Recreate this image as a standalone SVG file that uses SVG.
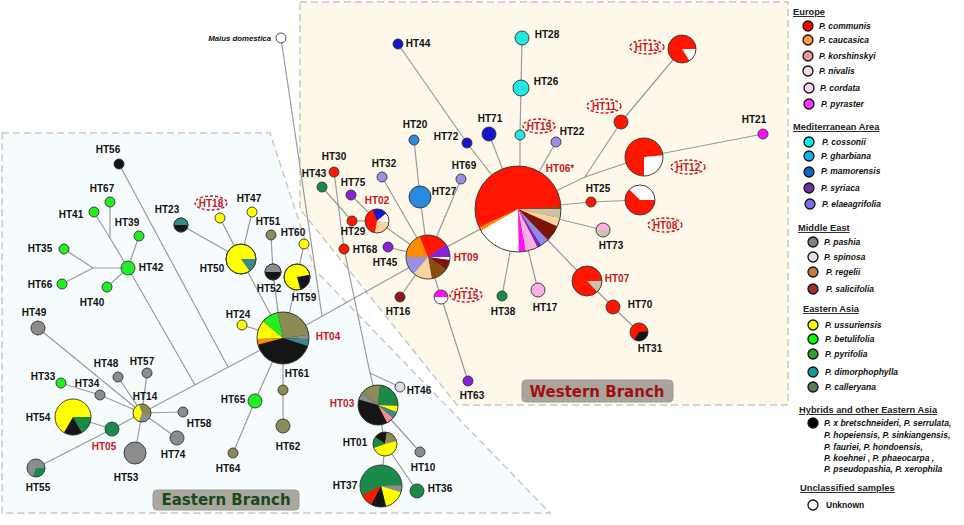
<svg xmlns="http://www.w3.org/2000/svg" width="964" height="525" viewBox="0 0 964 525">
<style>
.e{stroke:#9a9a9a;stroke-width:1.2;fill:none}
.n{stroke:#333;stroke-width:0.9}
.o{fill:none;stroke:#333;stroke-width:0.9}
.lb{font-family:"Liberation Sans",Arial,sans-serif;font-weight:bold;font-size:10px;text-anchor:middle;fill:#111}
.rd{fill:#c8161d}
.de{fill:none;stroke:#c8161d;stroke-width:1.4;stroke-dasharray:3 2}
.reg{stroke:#c8c8c8;stroke-width:1.5;stroke-dasharray:7 4}
.lh{font-family:"Liberation Sans",Arial,sans-serif;font-weight:bold;font-size:9.3px;fill:#222;text-decoration:underline}
.ls{font-family:"Liberation Sans",Arial,sans-serif;font-weight:bold;font-style:italic;font-size:8.5px;fill:#111}
.lc{stroke:#111;stroke-width:1.3}
.br{font-family:"DejaVu Sans",Verdana,sans-serif;font-weight:bold;font-size:15px;text-anchor:middle}
.red{fill:#ff1500}.yel{fill:#ffff00}.grn{fill:#22ee22}.dg{fill:#1a8a4a}.gry{fill:#8c8c8c}.olv{fill:#8b8b55}.blk{fill:#151515}.teal{fill:#3a8a8a}.blue{fill:#1515d0}.mblue{fill:#2a8ae0}.lav{fill:#9a90e0}.pur{fill:#8a20d8}.cyan{fill:#20e8e0}.mag{fill:#ff10ff}.wht{fill:#ffffff}.pch{fill:#f8d4a0}.mar{fill:#7a1508}.brn{fill:#8b4a10}.org{fill:#ff8c00}.bei{fill:#c8c2b0}.pnk{fill:#f8b0e0}.sal{fill:#f09090}
</style>
<rect width="964" height="525" fill="#ffffff"/>
<g id="regions">
<polygon class="reg" points="2,133 270,133 315,270 550,513 2,513" fill="#f6fcfd"/>
<polygon class="reg" points="300,2 788,2 788,405 457,405 300,209" fill="#fdf8ea"/>
<rect x="153" y="490" width="146" height="20" rx="4" fill="#aaa79f" stroke="#999" stroke-width="1"/>
<text class="br" x="226" y="505" fill="#174a1a">Eastern Branch</text>
<rect x="522" y="380" width="151" height="22" rx="4" fill="#aaa59c" stroke="#999" stroke-width="1"/>
<text class="br" x="597" y="397" fill="#a01010">Western Branch</text>
</g>
<g id="connectors" class="e">
<line x1="283" y1="338" x2="142" y2="413"/>
<line x1="119" y1="164" x2="228" y2="367"/>
<line x1="128" y1="268" x2="195" y2="385"/>
<line x1="110" y1="202" x2="110" y2="238"/>
<line x1="94" y1="212" x2="110" y2="238"/>
<line x1="110" y1="238" x2="128" y2="268"/>
<line x1="128" y1="268" x2="139" y2="236"/>
<line x1="128" y1="268" x2="107" y2="287"/>
<line x1="128" y1="268" x2="93" y2="268"/>
<line x1="93" y1="268" x2="64" y2="249"/>
<line x1="93" y1="268" x2="62" y2="284"/>
<line x1="241" y1="259" x2="181" y2="225"/>
<line x1="241" y1="259" x2="220" y2="218"/>
<line x1="241" y1="259" x2="252" y2="212"/>
<line x1="241" y1="259" x2="283" y2="338"/>
<line x1="271" y1="235" x2="273" y2="272"/>
<line x1="273" y1="272" x2="279" y2="320"/>
<line x1="304" y1="244" x2="297" y2="277"/>
<line x1="297" y1="277" x2="288" y2="320"/>
<line x1="242" y1="325" x2="283" y2="338"/>
<line x1="283" y1="338" x2="283" y2="426"/>
<line x1="283" y1="338" x2="255" y2="401"/>
<line x1="255" y1="401" x2="233" y2="453"/>
<line x1="142" y1="413" x2="118" y2="377"/>
<line x1="142" y1="413" x2="147" y2="373"/>
<line x1="142" y1="413" x2="100" y2="395"/>
<line x1="100" y1="395" x2="61" y2="383"/>
<line x1="142" y1="413" x2="183" y2="412"/>
<line x1="142" y1="413" x2="177" y2="438"/>
<line x1="142" y1="413" x2="135" y2="453"/>
<line x1="142" y1="413" x2="38" y2="328"/>
<line x1="142" y1="413" x2="112" y2="429"/>
<line x1="112" y1="429" x2="73" y2="417"/>
<line x1="112" y1="429" x2="36" y2="468"/>
<line x1="283" y1="338" x2="428" y2="257"/>
<line x1="281" y1="38" x2="322" y2="316"/>
<line x1="344" y1="249" x2="370" y2="373"/>
<line x1="370" y1="373" x2="400" y2="387"/>
<line x1="370" y1="373" x2="378" y2="405"/>
<line x1="378" y1="405" x2="385" y2="444"/>
<line x1="378" y1="405" x2="420" y2="452"/>
<line x1="385" y1="444" x2="381" y2="486"/>
<line x1="385" y1="444" x2="417" y2="491"/>
<line x1="334" y1="172" x2="344" y2="249"/>
<line x1="322" y1="187" x2="352" y2="221"/>
<line x1="352" y1="221" x2="377" y2="221"/>
<line x1="351" y1="195" x2="377" y2="221"/>
<line x1="377" y1="221" x2="428" y2="257"/>
<line x1="382" y1="177" x2="428" y2="257"/>
<line x1="414" y1="140" x2="420" y2="197"/>
<line x1="420" y1="197" x2="428" y2="257"/>
<line x1="461" y1="179" x2="428" y2="257"/>
<line x1="388" y1="247" x2="428" y2="257"/>
<line x1="400" y1="297" x2="428" y2="257"/>
<line x1="441" y1="297" x2="428" y2="257"/>
<line x1="441" y1="297" x2="468" y2="381"/>
<line x1="428" y1="257" x2="518" y2="209"/>
<line x1="398" y1="44" x2="467" y2="143"/>
<line x1="467" y1="143" x2="518" y2="209"/>
<line x1="489" y1="134" x2="518" y2="209"/>
<line x1="522" y1="38" x2="521" y2="88"/>
<line x1="521" y1="88" x2="520" y2="135"/>
<line x1="520" y1="135" x2="520" y2="209"/>
<line x1="556" y1="142" x2="518" y2="209"/>
<line x1="518" y1="209" x2="585" y2="177"/>
<line x1="585" y1="177" x2="644" y2="157"/>
<line x1="621" y1="122" x2="585" y2="177"/>
<line x1="621" y1="122" x2="682" y2="49"/>
<line x1="644" y1="157" x2="763" y2="134"/>
<line x1="518" y1="209" x2="591" y2="202"/>
<line x1="591" y1="202" x2="640" y2="200"/>
<line x1="518" y1="209" x2="603" y2="230"/>
<line x1="518" y1="209" x2="587" y2="281"/>
<line x1="587" y1="281" x2="613" y2="307"/>
<line x1="613" y1="307" x2="639" y2="332"/>
<line x1="518" y1="209" x2="502" y2="296"/>
<line x1="518" y1="209" x2="538" y2="290"/>
</g>
<g id="HT56"><circle class="n blk" cx="119" cy="164" r="5"/><text class="lb" x="108" y="153">HT56</text></g>
<g id="HT67"><circle class="n grn" cx="110" cy="202" r="5"/><text class="lb" x="102" y="192">HT67</text></g>
<g id="HT41"><circle class="n grn" cx="94" cy="212" r="5"/><text class="lb" x="71" y="218">HT41</text></g>
<g id="HT39"><circle class="n grn" cx="139" cy="236" r="5"/><text class="lb" x="127" y="226">HT39</text></g>
<g id="HT42"><circle class="n grn" cx="128" cy="268" r="7"/><text class="lb" x="151" y="271">HT42</text></g>
<g id="HT35"><circle class="n grn" cx="64" cy="249" r="5"/><text class="lb" x="40" y="252">HT35</text></g>
<g id="HT66"><circle class="n grn" cx="62" cy="284" r="5"/><text class="lb" x="40" y="288">HT66</text></g>
<g id="HT40"><circle class="n grn" cx="107" cy="287" r="5"/><text class="lb" x="92" y="306">HT40</text></g>
<g id="HT49"><circle class="n gry" cx="38" cy="328" r="7"/><text class="lb" x="34" y="316">HT49</text></g>
<g id="HT23"><circle class="n blk" cx="181" cy="225" r="7"/><path class="teal" d="M174 225 A7 7 0 0 1 188 225 Z"/><circle class="o" cx="181" cy="225" r="7"/><text class="lb" x="167" y="213">HT23</text></g>
<g id="HT18"><circle class="n yel" cx="220" cy="218" r="5"/><ellipse class="de" cx="211" cy="203" rx="16" ry="7"/><text class="lb rd" x="211" y="207">HT18</text></g>
<g id="HT47"><circle class="n yel" cx="252" cy="212" r="5"/><text class="lb" x="249" y="202">HT47</text></g>
<g id="HT51"><circle class="n olv" cx="271" cy="235" r="5"/><text class="lb" x="268" y="225">HT51</text></g>
<g id="HT60"><circle class="n yel" cx="304" cy="244" r="5"/><text class="lb" x="293" y="236">HT60</text></g>
<g id="HT50"><circle class="n yel" cx="241" cy="259" r="15"/><path class="teal" d="M241 259 L256 259 A15 15 0 0 1 249.6 271.29 Z"/><circle class="o" cx="241" cy="259" r="15"/><text class="lb" x="212" y="272">HT50</text></g>
<g id="HT52"><circle class="n blk" cx="273" cy="272" r="8"/><path class="gry" d="M265 272 A8 8 0 0 1 281 272 Z"/><circle class="o" cx="273" cy="272" r="8"/><text class="lb" x="269" y="292">HT52</text></g>
<g id="HT59"><circle class="n yel" cx="297" cy="277" r="13"/><path class="blk" d="M297 277 L309.8 274.74 A13 13 0 0 1 300.36 289.56 Z"/><circle class="o" cx="297" cy="277" r="13"/><text class="lb" x="304" y="301">HT59</text></g>
<g id="HT24"><circle class="n yel" cx="242" cy="325" r="5"/><text class="lb" x="238" y="318">HT24</text></g>
<g id="HT04"><circle class="blk" cx="283" cy="338" r="26"/>
<path class="org" d="M283 338 L257.89 344.73 A26 26 0 0 1 257.02 338.91 Z"/>
<path class="yel" d="M283 338 L257.02 338.91 A26 26 0 0 1 263.08 321.29 Z"/>
<path class="grn" d="M283 338 L263.08 321.29 A26 26 0 0 1 277.59 312.57 Z"/>
<path class="olv" d="M283 338 L277.59 312.57 A26 26 0 0 1 308.81 334.83 Z"/>
<path class="gry" d="M283 338 L308.81 334.83 A26 26 0 0 1 308.96 339.36 Z"/>
<path class="teal" d="M283 338 L308.96 339.36 A26 26 0 0 1 307.73 346.03 Z"/>
<circle class="o" cx="283" cy="338" r="26"/><text class="lb rd" x="328" y="340">HT04</text></g>
<g id="HT61"><circle class="n olv" cx="283" cy="390" r="5"/><text class="lb" x="297" y="377">HT61</text></g>
<g id="HT62"><circle class="n olv" cx="283" cy="426" r="7"/><text class="lb" x="288" y="450">HT62</text></g>
<g id="HT65"><circle class="n grn" cx="255" cy="401" r="7"/><text class="lb" x="233" y="403">HT65</text></g>
<g id="HT64"><circle class="n olv" cx="233" cy="453" r="5"/><text class="lb" x="228" y="472">HT64</text></g>
<g id="HT48"><circle class="n gry" cx="118" cy="377" r="5"/><text class="lb" x="106" y="367">HT48</text></g>
<g id="HT57"><circle class="n gry" cx="147" cy="373" r="5"/><text class="lb" x="142" y="365">HT57</text></g>
<g id="HT33"><circle class="n grn" cx="61" cy="383" r="5"/><text class="lb" x="43" y="380">HT33</text></g>
<g id="HT34"><circle class="n gry" cx="100" cy="395" r="5"/><text class="lb" x="87" y="387">HT34</text></g>
<g id="HT14"><circle class="olv" cx="142" cy="413" r="9"/><path class="gry" d="M142 413 L150.46 416.08 A9 9 0 0 1 138.92 421.46 Z"/><path class="yel" d="M142 413 L138.92 421.46 A9 9 0 0 1 138.92 404.54 Z"/><circle class="o" cx="142" cy="413" r="9"/><text class="lb" x="145" y="400">HT14</text></g>
<g id="HT54"><circle class="yel" cx="73" cy="417" r="18"/><path class="dg" d="M73 417 L91 417 A18 18 0 0 1 82 432.59 Z"/><path class="blk" d="M73 417 L82 432.59 A18 18 0 0 1 64 432.59 Z"/><circle class="o" cx="73" cy="417" r="18"/><text class="lb" x="38" y="421">HT54</text></g>
<g id="HT05"><circle class="n dg" cx="112" cy="429" r="7"/><text class="lb rd" x="104" y="450">HT05</text></g>
<g id="HT58"><circle class="n gry" cx="183" cy="412" r="5"/><text class="lb" x="199" y="427">HT58</text></g>
<g id="HT74"><circle class="n gry" cx="177" cy="438" r="7"/><text class="lb" x="173" y="458">HT74</text></g>
<g id="HT53"><circle class="n gry" cx="135" cy="453" r="11"/><text class="lb" x="126" y="481">HT53</text></g>
<g id="HT55"><circle class="gry" cx="36" cy="468" r="9"/><path class="dg" d="M36 468 L45 468 A9 9 0 0 1 32.92 476.46 Z"/><circle class="o" cx="36" cy="468" r="9"/><text class="lb" x="38" y="491">HT55</text></g>
<g id="HT03"><circle class="blk" cx="378" cy="405" r="20"/>
<path class="dg" d="M378 405 L380.09 385.11 A20 20 0 0 1 397.99 405.7 Z"/>
<path class="yel" d="M378 405 L397.99 405.7 A20 20 0 0 1 396.67 412.17 Z"/>
<path class="teal" d="M378 405 L396.67 412.17 A20 20 0 0 1 393.09 418.12 Z"/>
<path class="sal" d="M378 405 L393.09 418.12 A20 20 0 0 1 387.08 422.82 Z"/>
<path class="gry" d="M378 405 L358.77 399.49 A20 20 0 0 1 362.03 392.96 Z"/>
<path class="olv" d="M378 405 L362.03 392.96 A20 20 0 0 1 380.09 385.11 Z"/>
<circle class="o" cx="378" cy="405" r="20"/><text class="lb rd" x="342" y="407">HT03</text></g>
<g id="HT46"><circle class="n" fill="#dddddd" cx="400" cy="387" r="5"/><text class="lb" x="419" y="394">HT46</text></g>
<g id="HT01"><circle class="yel" cx="385" cy="444" r="12"/>
<path class="dg" d="M385 444 L373.72 448.1 A12 12 0 0 1 375.17 437.12 Z"/>
<path class="blk" d="M385 444 L375.17 437.12 A12 12 0 0 1 387.08 432.18 Z"/>
<path class="olv" d="M385 444 L387.08 432.18 A12 12 0 0 1 396.59 440.89 Z"/>
<circle class="o" cx="385" cy="444" r="12"/><text class="lb" x="355" y="446">HT01</text></g>
<g id="HT10"><circle class="n gry" cx="420" cy="452" r="5"/><text class="lb" x="423" y="471">HT10</text></g>
<g id="HT37"><circle class="dg" cx="381" cy="486" r="21"/>
<path class="gry" d="M381 486 L401.99 485.27 A21 21 0 0 1 401.08 492.14 Z"/>
<path class="yel" d="M381 486 L401.08 492.14 A21 21 0 0 1 386.08 506.38 Z"/>
<path class="blk" d="M381 486 L386.08 506.38 A21 21 0 0 1 371.14 504.54 Z"/>
<path class="red" d="M381 486 L371.14 504.54 A21 21 0 0 1 362.12 495.21 Z"/>
<circle class="o" cx="381" cy="486" r="21"/><text class="lb" x="345" y="489">HT37</text></g>
<g id="HT36"><circle class="n dg" cx="417" cy="491" r="7"/><text class="lb" x="440" y="492">HT36</text></g>
<g id="Malus"><circle class="n wht" cx="281" cy="38" r="5"/><text x="271" y="41" font-family="Liberation Sans, Arial, sans-serif" font-weight="bold" font-style="italic" font-size="7.8" text-anchor="end" fill="#111">Malus domestica</text></g>
<g id="HT44"><circle class="n blue" cx="398" cy="44" r="5"/><text class="lb" x="418" y="47">HT44</text></g>
<g id="HT72"><circle class="n blue" cx="467" cy="143" r="5"/><text class="lb" x="446" y="140">HT72</text></g>
<g id="HT71"><circle class="n blue" cx="489" cy="134" r="7"/><text class="lb" x="490" y="122">HT71</text></g>
<g id="HT20"><circle class="n mblue" cx="414" cy="140" r="5"/><text class="lb" x="415" y="128">HT20</text></g>
<g id="HT27"><circle class="n mblue" cx="420" cy="197" r="11"/><text class="lb" x="444" y="195">HT27</text></g>
<g id="HT30"><circle class="n red" cx="334" cy="172" r="5"/><text class="lb" x="334" y="160">HT30</text></g>
<g id="HT43"><circle class="n dg" cx="322" cy="187" r="5"/><text class="lb" x="314" y="177">HT43</text></g>
<g id="HT32"><circle class="n lav" cx="382" cy="177" r="5"/><text class="lb" x="384" y="167">HT32</text></g>
<g id="HT75"><circle class="n pur" cx="351" cy="195" r="5"/><text class="lb" x="353" y="186">HT75</text></g>
<g id="HT69"><circle class="n lav" cx="461" cy="179" r="5"/><text class="lb" x="464" y="169">HT69</text></g>
<g id="HT02"><circle class="red" cx="377" cy="221" r="12"/>
<path class="blue" d="M377 221 L372.9 209.72 A12 12 0 0 1 386.19 213.29 Z"/>
<path class="wht" d="M377 221 L386.19 213.29 A12 12 0 0 1 388.82 223.08 Z"/>
<path class="pch" d="M377 221 L388.82 223.08 A12 12 0 0 1 374.92 232.82 Z"/>
<circle class="o" cx="377" cy="221" r="12"/><text class="lb rd" x="377" y="204">HT02</text></g>
<g id="HT29"><circle class="n red" cx="352" cy="221" r="5"/><text class="lb" x="353" y="235">HT29</text></g>
<g id="HT68"><circle class="n red" cx="344" cy="249" r="5"/><text class="lb" x="365" y="253">HT68</text></g>
<g id="HT45"><circle class="n pur" cx="388" cy="247" r="5"/><text class="lb" x="385" y="266">HT45</text></g>
<g id="HT09"><circle class="lav" cx="428" cy="257" r="22"/>
<path class="org" d="M428 257 L406 257 A22 22 0 0 1 419.76 236.6 Z"/>
<path class="red" d="M428 257 L419.76 236.6 A22 22 0 0 1 446.02 244.38 Z"/>
<path class="pur" d="M428 257 L446.02 244.38 A22 22 0 0 1 450 257 Z"/>
<path class="wht" d="M428 257 L450 257 A22 22 0 0 1 449.79 260.06 Z"/>
<path class="mar" d="M428 257 L449.79 260.06 A22 22 0 0 1 446.02 269.62 Z"/>
<path class="brn" d="M428 257 L446.02 269.62 A22 22 0 0 1 431.82 278.67 Z"/>
<path class="pch" d="M428 257 L431.82 278.67 A22 22 0 0 1 413.86 273.85 Z"/>
<circle class="o" cx="428" cy="257" r="22"/><text class="lb rd" x="466" y="261">HT09</text></g>
<g id="HT16"><circle class="n" fill="#8b1a1a" cx="400" cy="297" r="5"/><text class="lb" x="398" y="315">HT16</text></g>
<g id="HT15"><circle class="wht" cx="441" cy="297" r="7"/><path class="mag" d="M434 297 A7 7 0 0 1 448 297 Z"/><circle class="o" cx="441" cy="297" r="7"/><ellipse class="de" cx="466" cy="295" rx="16" ry="7"/><text class="lb rd" x="466" y="299">HT15</text></g>
<g id="HT63"><circle class="n pur" cx="468" cy="381" r="5"/><text class="lb" x="472" y="399">HT63</text></g>
<g id="HT06"><circle class="red" cx="518" cy="209" r="43"/>
<path fill="#7a5010" d="M518 209 L560.94 206.75 A43 43 0 0 1 561 209 Z"/>
<path class="bei" d="M518 209 L561 209 A43 43 0 0 1 560.06 217.94 Z"/>
<path class="pch" d="M518 209 L560.06 217.94 A43 43 0 0 1 557.28 226.49 Z"/>
<path class="mar" d="M518 209 L557.28 226.49 A43 43 0 0 1 547.87 239.93 Z"/>
<path fill="#8c8ce8" d="M518 209 L547.87 239.93 A43 43 0 0 1 540.79 245.46 Z"/>
<path fill="#7a20d0" d="M518 209 L540.79 245.46 A43 43 0 0 1 537.52 247.31 Z"/>
<path class="pnk" d="M518 209 L537.52 247.31 A43 43 0 0 1 525.47 251.35 Z"/>
<path class="mag" d="M518 209 L525.47 251.35 A43 43 0 0 1 518.75 251.99 Z"/>
<path class="wht" d="M518 209 L518.75 251.99 A43 43 0 0 1 480.76 230.5 Z"/>
<path class="org" d="M518 209 L480.76 230.5 A43 43 0 0 1 479.03 227.17 Z"/>
<circle class="o" cx="518" cy="209" r="43"/><text class="lb rd" x="560" y="172">HT06*</text></g>
<g id="HT28"><circle class="n cyan" cx="522" cy="38" r="7"/><text class="lb" x="547" y="38">HT28</text></g>
<g id="HT26"><circle class="n cyan" cx="521" cy="88" r="8"/><text class="lb" x="546" y="85">HT26</text></g>
<g id="HT19"><circle class="n cyan" cx="520" cy="135" r="5"/><ellipse class="de" cx="539" cy="126" rx="16" ry="7"/><text class="lb rd" x="539" y="130">HT19</text></g>
<g id="HT22"><circle class="n lav" cx="556" cy="142" r="5"/><text class="lb" x="572" y="135">HT22</text></g>
<g id="HT11"><circle class="n red" cx="621" cy="122" r="7"/><ellipse class="de" cx="604" cy="106" rx="17" ry="7"/><text class="lb rd" x="604" y="110">HT11</text></g>
<g id="HT13"><circle class="red" cx="682" cy="49" r="14"/><path class="wht" d="M682 49 L696 49 A14 14 0 0 1 689.42 60.87 Z"/><circle class="o" cx="682" cy="49" r="14"/><ellipse class="de" cx="647" cy="47" rx="17" ry="7"/><text class="lb rd" x="647" y="51">HT13</text></g>
<g id="HT12"><circle class="red" cx="644" cy="157" r="19"/><path class="wht" d="M644 157 L662.93 155.34 A19 19 0 0 1 644 176 Z"/><circle class="o" cx="644" cy="157" r="19"/><ellipse class="de" cx="688" cy="167" rx="17" ry="7"/><text class="lb rd" x="688" y="171">HT12</text></g>
<g id="HT21"><circle class="n mag" cx="763" cy="134" r="5"/><text class="lb" x="754" y="123">HT21</text></g>
<g id="HT25"><circle class="n red" cx="591" cy="202" r="5"/><text class="lb" x="598" y="192">HT25</text></g>
<g id="HT08"><circle class="red" cx="640" cy="200" r="15"/><path class="wht" d="M640 200 L629.39 189.39 A15 15 0 0 1 655 200 Z"/><circle class="o" cx="640" cy="200" r="15"/><ellipse class="de" cx="665" cy="225" rx="17" ry="7"/><text class="lb rd" x="665" y="229">HT08</text></g>
<g id="HT73"><circle class="bei" cx="603" cy="230" r="7"/><path class="pnk" d="M596 230 A7 7 0 0 1 610 230 Z"/><circle class="o" cx="603" cy="230" r="7"/><text class="lb" x="611" y="249">HT73</text></g>
<g id="HT07"><circle class="red" cx="587" cy="281" r="15"/><path class="bei" d="M587 281 L602 281 A15 15 0 0 1 597.23 291.97 Z"/><circle class="o" cx="587" cy="281" r="15"/><text class="lb rd" x="617" y="282">HT07</text></g>
<g id="HT70"><circle class="n red" cx="613" cy="307" r="7"/><text class="lb" x="640" y="308">HT70</text></g>
<g id="HT31"><circle class="red" cx="639" cy="332" r="9"/><path class="blk" d="M639 332 L647.97 331.22 A9 9 0 0 1 634.5 339.79 Z"/><circle class="o" cx="639" cy="332" r="9"/><text class="lb" x="650" y="352">HT31</text></g>
<g id="HT38"><circle class="n dg" cx="502" cy="296" r="5"/><text class="lb" x="503" y="315">HT38</text></g>
<g id="HT17"><circle class="n pnk" cx="538" cy="290" r="7"/><text class="lb" x="545" y="311">HT17</text></g>
<g id="legend">
<text class="lh" x="793" y="15">Europe</text>
<circle class="lc" cx="808" cy="26" r="5" fill="#ff0000"/><text class="ls" x="819" y="29">P. communis</text>
<circle class="lc" cx="808" cy="40" r="5" fill="#ff9a40"/><text class="ls" x="819" y="43">P. caucasica</text>
<circle class="lc" cx="808" cy="56" r="5" fill="#e89898"/><text class="ls" x="819" y="59">P. korshinskyi</text>
<circle class="lc" cx="808" cy="71" r="5" fill="#f2dede"/><text class="ls" x="819" y="74">P. nivalis</text>
<circle class="lc" cx="809" cy="88" r="5" fill="#f8d4f0"/><text class="ls" x="820" y="91">P. cordata</text>
<circle class="lc" cx="809" cy="104" r="5" fill="#ff33ff"/><text class="ls" x="821" y="107">P. pyraster</text>
<text class="lh" x="793" y="130">Mediterranean Area</text>
<circle class="lc" cx="809" cy="142" r="5" fill="#00f0f0"/><text class="ls" x="822" y="145">P. cossonii</text>
<circle class="lc" cx="809" cy="156" r="5" fill="#10b4ec"/><text class="ls" x="821" y="159">P. gharbiana</text>
<circle class="lc" cx="809" cy="172" r="5" fill="#1068c8"/><text class="ls" x="821" y="174">P. mamorensis</text>
<circle class="lc" cx="809" cy="188" r="5" fill="#7030a0"/><text class="ls" x="821" y="191">P. syriaca</text>
<circle class="lc" cx="810" cy="204" r="5" fill="#7070f0"/><text class="ls" x="822" y="207">P. elaeagrifolia</text>
<text class="lh" x="798" y="231">Middle East</text>
<circle class="lc" cx="813" cy="242" r="5" fill="#808080"/><text class="ls" x="824" y="245">P. pashia</text>
<circle class="lc" cx="813" cy="257" r="5" fill="#e0e0e0"/><text class="ls" x="824" y="260">P. spinosa</text>
<circle class="lc" cx="813" cy="272" r="5" fill="#c87a38"/><text class="ls" x="826" y="275">P. regelii</text>
<circle class="lc" cx="813" cy="289" r="5" fill="#a03030"/><text class="ls" x="826" y="292">P. salicifolia</text>
<text class="lh" x="803" y="312">Eastern Asia</text>
<circle class="lc" cx="813" cy="325" r="5" fill="#ffff00"/><text class="ls" x="825" y="328">P. ussuriensis</text>
<circle class="lc" cx="813" cy="339" r="5" fill="#00ff00"/><text class="ls" x="825" y="342">P. betulifolia</text>
<circle class="lc" cx="813" cy="354" r="5" fill="#30a030"/><text class="ls" x="825" y="357">P. pyrifolia</text>
<circle class="lc" cx="813" cy="372" r="5" fill="#109898"/><text class="ls" x="825" y="375">P. dimorphophylla</text>
<circle class="lc" cx="813" cy="387" r="5" fill="#607860"/><text class="ls" x="825" y="390">P. calleryana</text>
<text class="lh" x="799" y="413">Hybrids and other Eastern Asia</text>
<circle class="lc" cx="813" cy="423" r="5" fill="#000000"/>
<text class="ls" x="824" y="426">P. x bretschneideri, P. serrulata,</text>
<text class="ls" x="824" y="438">P. hopeiensis, P. sinkiangensis,</text>
<text class="ls" x="824" y="450">P. fauriei, P. hondoensis,</text>
<text class="ls" x="824" y="461">P. koehnei , P. phaeocarpa ,</text>
<text class="ls" x="824" y="472">P. pseudopashia, P. xerophila</text>
<text class="lh" x="800" y="491">Unclassified samples</text>
<circle class="lc" cx="813" cy="505" r="5" fill="#ffffff"/><text x="826" y="508" font-family="Liberation Sans, Arial, sans-serif" font-weight="bold" font-size="8.5" fill="#111">Unknown</text>
</g>
</svg>
